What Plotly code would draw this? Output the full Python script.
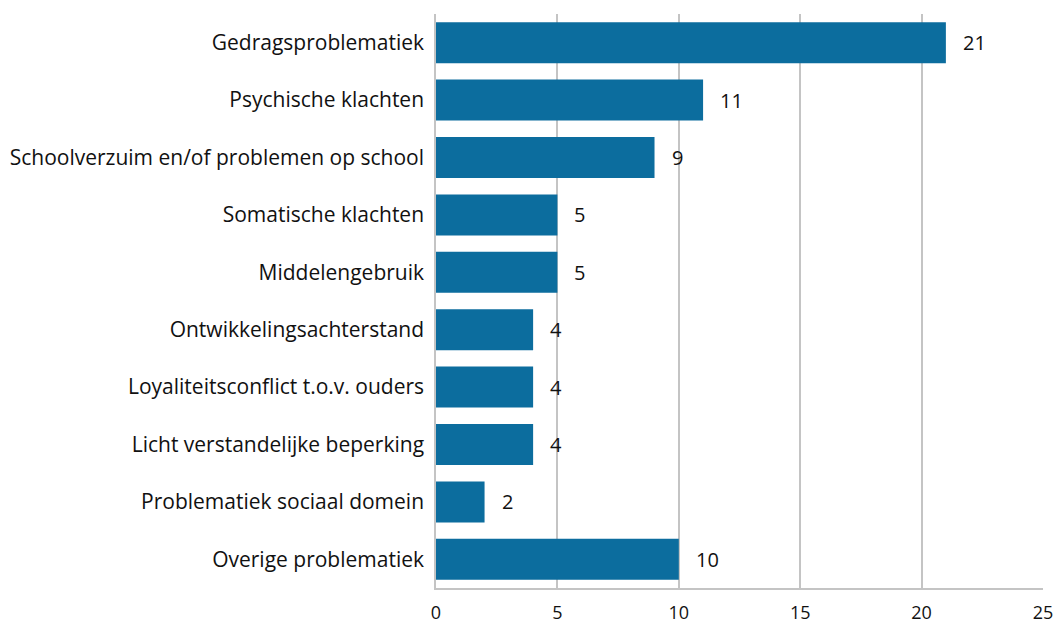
import plotly.graph_objects as go

categories = [
    "Gedragsproblematiek",
    "Psychische klachten",
    "Schoolverzuim en/of problemen op school",
    "Somatische klachten",
    "Middelengebruik",
    "Ontwikkelingsachterstand",
    "Loyaliteitsconflict t.o.v. ouders",
    "Licht verstandelijke beperking",
    "Problematiek sociaal domein",
    "Overige problematiek",
]
values = [21, 11, 9, 5, 5, 4, 4, 4, 2, 10]
tick_vals = [0, 5, 10, 15, 20, 25]

FONT = "Open Sans"
BAR = "#0c6d9e"
TXT = "#111111"

fig = go.Figure()
fig.add_trace(go.Bar(
    y=categories, x=values, orientation="h",
    marker=dict(color=BAR, line=dict(width=0)),
    hoverinfo="x+y",
))

for c, v in zip(categories, values):
    fig.add_annotation(x=v, y=c, text=str(v), showarrow=False,
                       xanchor="left", yanchor="middle", xshift=15,
                       font=dict(family=FONT, size=20, color=TXT))

fig.update_layout(
    width=1057, height=624,
    margin=dict(l=436, r=14, t=14, b=36, autoexpand=False),
    paper_bgcolor="white", plot_bgcolor="white",
    bargap=0.286,
    showlegend=False,
    font=dict(family=FONT, size=20, color=TXT),
)
fig.update_xaxes(
    range=[0, 25], tickvals=tick_vals,
    showgrid=True, gridcolor="#c4c4c4", gridwidth=1.5,
    showline=True, linecolor="#c4c4c4", linewidth=1.5,
    zeroline=False, ticks="", ticklen=0,
    ticklabelstandoff=8,
    tickfont=dict(family=FONT, size=18, color=TXT),
    automargin=False,
    fixedrange=True,
)
fig.update_yaxes(
    autorange="reversed", showgrid=False, showline=True,
    linecolor="#c4c4c4", linewidth=1.5, ticks="", ticklen=0,
    ticklabelstandoff=6,
    tickfont=dict(family=FONT, size=21, color=TXT),
    automargin=False,
    fixedrange=True,
)

fig.write_html(
    "out.html",
    config={"displayModeBar": False},
    post_script="document.body.style.margin='0';document.body.style.overflow='hidden';",
)
